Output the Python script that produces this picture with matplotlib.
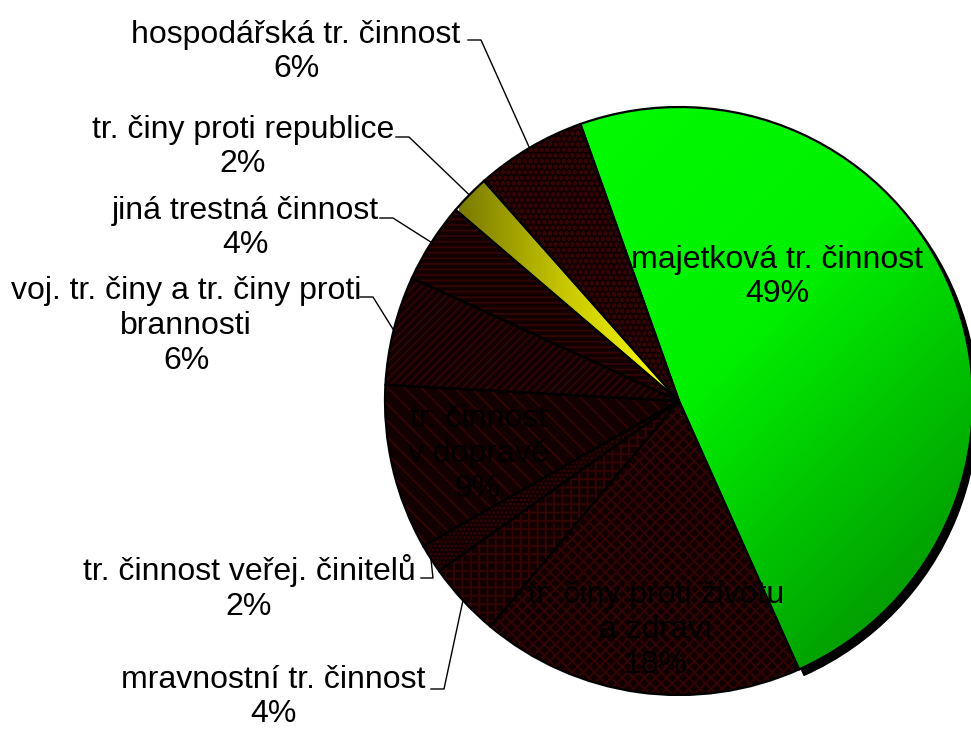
import numpy as np
import matplotlib.pyplot as plt
from matplotlib.patches import Wedge
from matplotlib.colors import LinearSegmentedColormap

plt.rcParams['font.family'] = ['Liberation Sans', 'DejaVu Sans']
plt.rcParams['hatch.linewidth'] = 1.3

# data (clockwise from the top)
categories = ['majetková tr. činnost', 'tr. činy proti životu\na zdraví',
              'mravnostní tr. činnost', 'tr. činnost veřej. činitelů',
              'tr. činnost\nv dopravě', 'voj. tr. činy a tr. činy proti\nbrannosti',
              'jiná trestná činnost', 'tr. činy proti republice',
              'hospodářská tr. činnost']
values = [48.8, 17.8, 4.1, 1.6, 9.1, 6.0, 4.4, 2.2, 6.1]

# styles
hatches = [None, 'xxx', '++', '....', '\\\\', '////', '---', None, 'ooo']
dark = '#120000'
hatch_col = '#330404'

W, H = 971, 732
cx, cy, R = 679, H - 401, 294

fig = plt.figure(figsize=(W / 100, H / 100), dpi=100)
ax = fig.add_axes([0, 0, 1, 1])

wedges, _ = ax.pie(values, startangle=109.6, counterclock=False,
                   center=(cx, cy), radius=R, wedgeprops=dict(linewidth=0))
ax.set_xlim(0, W)
ax.set_ylim(0, H)
ax.set_aspect('auto')
ax.axis('off')

# shadow behind the green slice
g = wedges[0]
ax.add_patch(Wedge((cx + 5, cy - 6), R, g.theta1, g.theta2, color='black', zorder=0))

# gradients
green = LinearSegmentedColormap.from_list('g', ['#00ff00', '#00f000', '#007f00'])
yellow = LinearSegmentedColormap.from_list('y', ['#7a7a00', '#c8c800', '#ffff00'])
n = 300
yy, xx = np.mgrid[0:n, 0:n] / (n - 1)
ext = (cx - R, cx + R, cy - R, cy + R)

im = ax.imshow((xx + yy) / 2, cmap=green, extent=ext, origin='upper', zorder=1)
im.set_clip_path(wedges[0])
wedges[0].set_facecolor('none')

y_w = wedges[7]
im2 = ax.imshow(xx, cmap=yellow, extent=(cx - 220, cx - 5, cy - R, cy + R),
                origin='upper', zorder=1)
im2.set_clip_path(y_w)
y_w.set_facecolor('none')

for w, h in zip(wedges, hatches):
    if h is not None:
        w.set_facecolor(dark)
        w.set_hatch(h)
        w.set_edgecolor(hatch_col)
        w.set_linewidth(0)
    w.set_zorder(1)
    ax.add_patch(Wedge((cx, cy), R, w.theta1, w.theta2, fill=False,
                       edgecolor='black', linewidth=1.6, zorder=3))

# labels
total = sum(values)
pct = ['%d%%' % round(v / total * 100) for v in values]

# (text center x, text center y, elbow start x, elbow end x, elbow y) in pixels
outside = {
    8: (296, 52, 468, 481, 40),
    7: (243, 147, 396, 409, 137),
    6: (245, 228, 380, 393, 218),
    5: (186, 326, 360, 373, 297),
    3: (249, 588, 421, 433, 578),
    2: (273, 697, 431, 444, 689),
}
inside = {0: (777, 277), 1: (656, 630), 4: (478, 454)}

fs = 23
for i, (tx, ty, x0, x1, ey) in outside.items():
    w = wedges[i]
    mid = np.deg2rad((w.theta1 + w.theta2) / 2)
    ex, ey2 = cx + R * np.cos(mid), cy + R * np.sin(mid)
    ax.text(tx, H - ty, categories[i] + '\n' + pct[i], ha='center', va='center',
            fontsize=fs, linespacing=1.2, zorder=4)
    ax.plot([x0, x1, ex], [H - ey, H - ey, ey2], color='black', lw=1, zorder=4)

for i, (tx, ty) in inside.items():
    ax.text(tx, H - ty, categories[i] + '\n' + pct[i], ha='center', va='center',
            fontsize=fs, linespacing=1.2, zorder=4)

fig.savefig('out.png', dpi=100)
